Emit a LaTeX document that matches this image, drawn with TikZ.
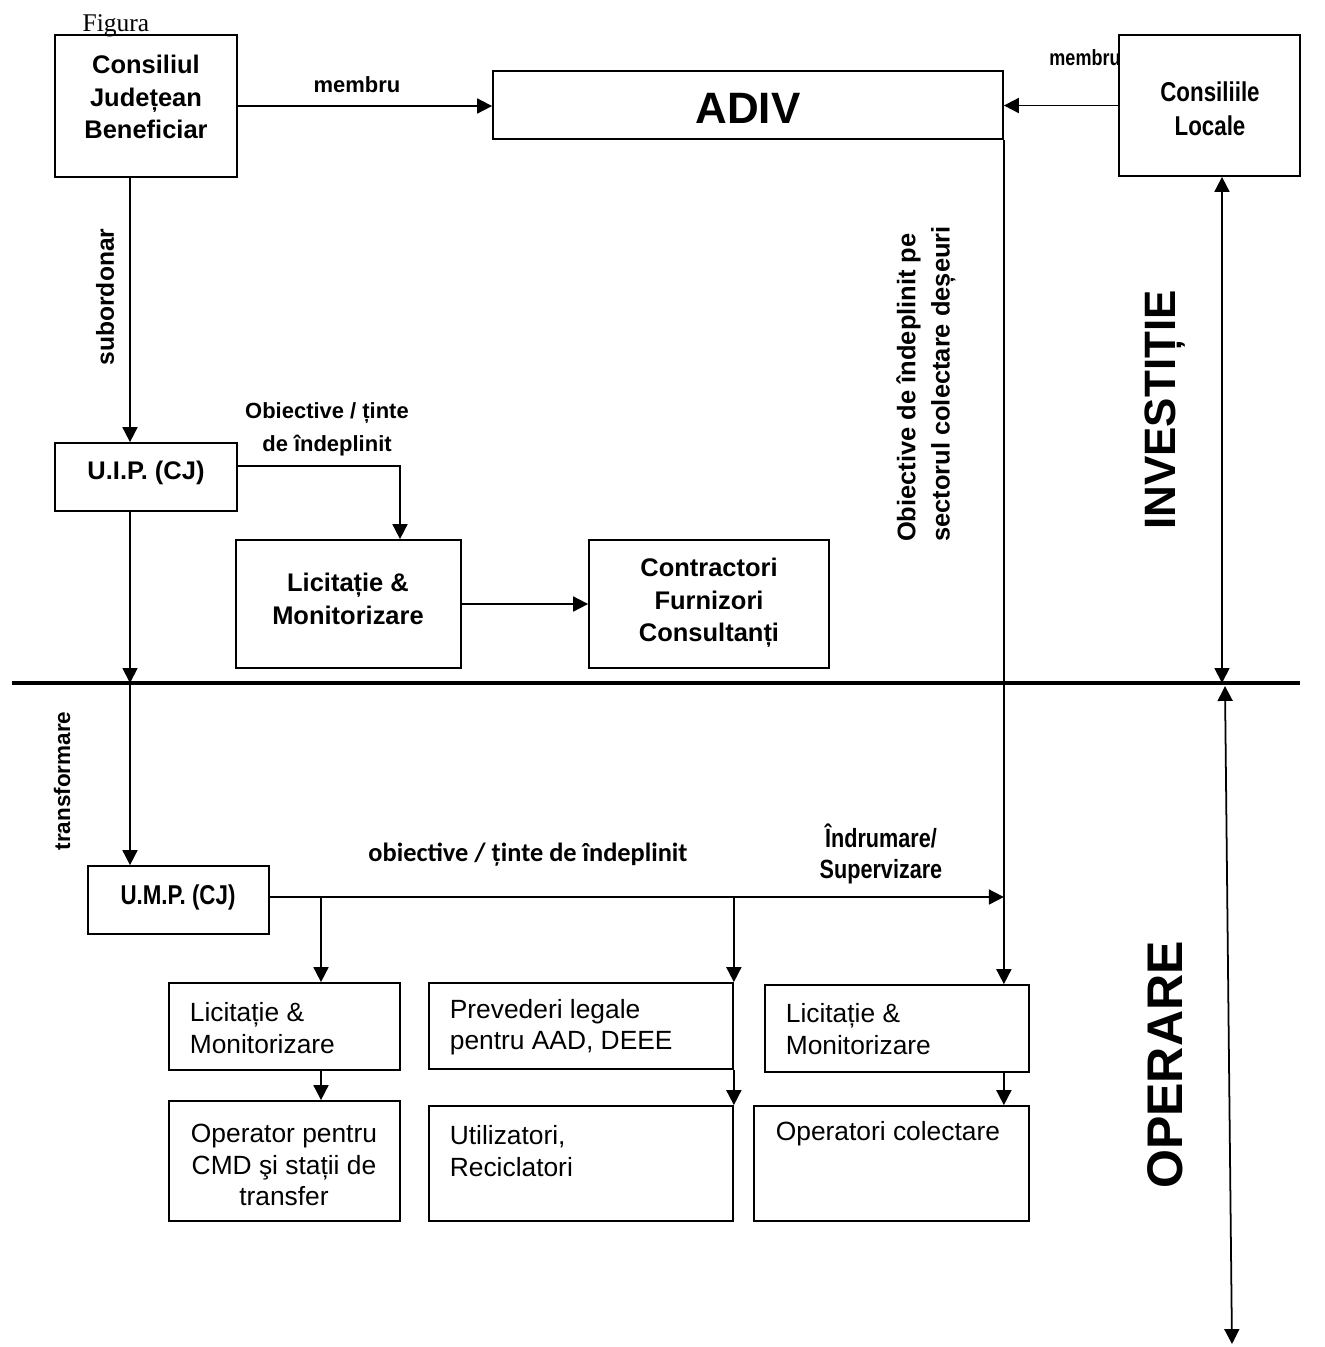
\documentclass[tikz,border=0pt]{standalone}
\usepackage{fontspec}
\setmainfont{Liberation Sans}
\newfontfamily\narrowfont[FakeStretch=0.82]{Liberation Sans}
\newfontfamily\calibrifont{Carlito}
\newfontfamily\serifont{Liberation Serif}
\usetikzlibrary{arrows.meta,fit}

\def\boxline{1pt}
\def\txtsize{\fontsize{14.5}{18.6}\selectfont}
\def\lowsize{\fontsize{15}{18}\selectfont}
\def\lblsize{\fontsize{12.5}{18.8}\selectfont}

\begin{document}
\begin{tikzpicture}[x=0.02cm,y=-0.02cm,>={Triangle[length=8.5pt,width=8.5pt]},line width=\boxline]
        \tikzstyle{box}=[draw,rectangle,inner sep=0pt,line width=\boxline]
        \tikzstyle{txt}=[font=\bfseries\txtsize,align=center,inner sep=0pt]
        \tikzstyle{plain}=[font=\lowsize,align=left,inner sep=0pt,anchor=west]
        \tikzstyle{lbl}=[font=\bfseries\lblsize,align=center,inner sep=0pt]
        \tikzstyle{narrow lbl}=[font=\narrowfont\bfseries\fontsize{15}{17.6}\selectfont,align=center,inner sep=0pt]
        \tikzstyle{phase}=[font=\bfseries\fontsize{25}{30}\selectfont,rotate=90,inner sep=0pt]

        \useasboundingbox (0,0) rectangle (1325,1347);

        % Investitie part
        \node[box,fit={(55,35) (237,177)}] (cjb) {};
        \node[box,fit={(493,71) (1003,139)}] (adiv) {};
        \node[box,fit={(1119,35) (1300,176)}] (cl) {};
        \node[box,fit={(55,443) (237,511)}] (uip) {};
        \node[box,fit={(236,540) (461,668)}] (lic1) {};
        \node[box,fit={(589,540) (829,668)}] (ctr) {};

        % Operare part
        \node[box,fit={(88,866) (269,934)}] (ump) {};
        \node[box,fit={(169,983) (400,1070)}] (lic2) {};
        \node[box,fit={(169,1101) (400,1221)}] (op) {};
        \node[box,fit={(429,983) (733,1069)}] (prev) {};
        \node[box,fit={(429,1106) (733,1221)}] (util) {};
        \node[box,fit={(765,985) (1029,1072)}] (lic3) {};
        \node[box,fit={(754,1106) (1029,1221)}] (opc) {};

        % Texts in the boxes
        \node[anchor=base,inner sep=0pt,font=\serifont\fontsize{14.5}{15}\selectfont] (fig) at (116,31) {Figura};
        \node[txt] (cjbt) at (146,97) {Consiliul\\Județean\\Beneficiar};
        \node[txt,font=\bfseries\fontsize{25}{30}\selectfont] (adivt) at (748,108) {ADIV};
        \node[narrow lbl,font=\narrowfont\bfseries\fontsize{15.5}{19.5}\selectfont] (clt) at (1210,109) {Consiliile\\Locale};
        \node[txt] (uipt) at (146,473) {U.I.P. (CJ)};
        \node[txt] (lic1t) at (348,599) {Licitație \&\\Monitorizare};
        \node[txt] (ctrt) at (709,603) {Contractori\\Furnizori\\Consultanți};
        \node[narrow lbl,font=\narrowfont\bfseries\fontsize{15.5}{19.5}\selectfont] (umpt) at (178,897) {U.M.P. (CJ)};
        \node[plain] (lic2t) at (189,1028) {Licitație \&\\Monitorizare};
        \node[txt,font=\lowsize] (opt) at (284,1165) {Operator pentru\\CMD şi stații de\\transfer};
        \node[plain] (prevt) at (449,1027) {Prevederi legale\\pentru AAD, DEEE};
        \node[plain] (utilt) at (449,1151) {Utilizatori,\\Reciclatori};
        \node[plain] (lic3t) at (785,1029) {Licitație \&\\Monitorizare};
        \node[plain] (opct) at (775,1134) {Operatori colectare};

        % Labels on the connectors
        \node[lbl] (m1) at (357,85) {membru};
        \node[narrow lbl,font=\narrowfont\bfseries\fontsize{12.5}{15}\selectfont] (m2) at (1085,58) {membru};
        \node[lbl,font=\bfseries\fontsize{14}{18}\selectfont,rotate=90] (sub) at (105,297) {subordonar};
        \node[lbl] (obj1) at (327,429) {Obiective / ținte\\de îndeplinit};
        \node[lbl,font=\bfseries\fontsize{14.5}{19.5}\selectfont,rotate=90,align=left] (obj2) at (926,384) {Obiective de îndeplinit pe\\sectorul colectare deșeuri};
        \node[lbl,font=\bfseries\fontsize{12.8}{15}\selectfont,rotate=90] (trf) at (62,781) {transformare};
        \node[lbl,font=\calibrifont\bfseries\fontsize{15}{18}\selectfont] (obj3) at (528,855) {obiective / ținte de îndeplinit};
        \node[narrow lbl] (ind) at (881,854) {Îndrumare/\\Supervizare};
        \node[phase] (inv) at (1165,410) {INVESTIȚIE};
        \node[phase,font=\bfseries\fontsize{28.5}{30}\selectfont] (opr) at (1165,1065) {OPERARE};

        % Help coordinates
        \coordinate (colA) at (130,0);
        \coordinate (colB) at (400,0);
        \coordinate (colC) at (321,0);
        \coordinate (colR) at (1222,0);
        \coordinate (rowB) at (0,466);
        \coordinate (rowC) at (0,897);
        \coordinate (sepL) at (12,683);
        \coordinate (sepR) at (1300,683);
        \coordinate (topR) at (1225,686);
        \coordinate (endR) at (1232,1344);

        % Separation line
        \draw[line width=2.5pt] (sepL) -- (sepR);

        % Connect the boxes
        \draw[->] (cjb.east) -- (cjb.east -| adiv.west);
        \draw[->] (cl.west) -- (cl.west -| adiv.east);
        \draw[->] (adiv.south east) -- (lic3.north -| adiv.south east);
        \draw[->] (cjb.south -| colA) -- (uip.north -| colA);
        \draw[->] (uip.east |- rowB) -| (lic1.north -| colB);
        \draw[->] (uip.south -| colA) -- (sepL -| colA);
        \draw[->] (sepL -| colA) -- (ump.north -| colA);
        \draw[->] (lic1) -- (ctr);
        \draw[<->] (cl.south -| colR) -- (sepL -| colR);
        \draw[<->] (topR) -- (endR);
        \draw[->] (ump.east |- rowC) -- (rowC -| adiv.south east);
        \draw[->] (rowC -| colC) -- (lic2.north -| colC);
        \draw[->] (rowC -| prev.north east) -- (prev.north east);
        \draw[->] (prev.south east) -- (util.north east);
        \draw[->] (lic2.south -| colC) -- (op.north -| colC);
        \draw[->] (lic3.south -| adiv.south east) -- (opc.north -| adiv.south east);

\end{tikzpicture}
\end{document}
